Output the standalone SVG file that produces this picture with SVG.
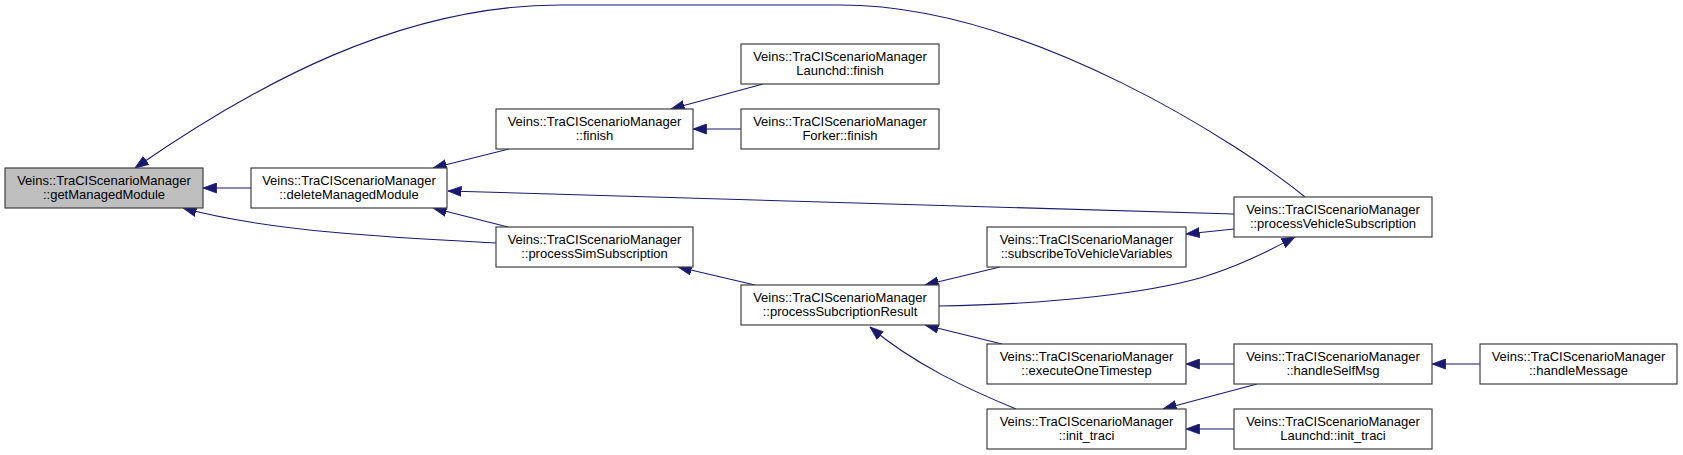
<svg xmlns="http://www.w3.org/2000/svg" width="1683" height="455" viewBox="0 0 1683 455">
<style>
.n rect{fill:#ffffff;stroke:#404040;stroke-width:1.2}
.n.g rect{fill:#bfbfbf}
.n text{font-family:"Liberation Sans",Arial,sans-serif;font-size:13px;fill:#000;text-anchor:middle}
.e path{fill:none;stroke:#191970;stroke-width:1.1;marker-end:url(#ah)}
</style>
<defs>
<marker id="ah" markerUnits="userSpaceOnUse" markerWidth="14" markerHeight="11" viewBox="0 0 14 11" refX="13.5" refY="5.5" orient="auto">
<path d="M0,0.5 L13.5,5.5 L0,10.5 z" fill="#191970" stroke="#191970" stroke-width="0.8"/>
</marker>
</defs>
<rect width="1683" height="455" fill="#ffffff"/>
<g id="edges" class="e">
<path d="M251,188 L203,188"/>
<path d="M1305,197 C1245,148 1030,5 840,5 L560,5 C400,5 255,85 135,168"/>
<path d="M509,149 L433,168"/>
<path d="M763,84 L671,109"/>
<path d="M741,129 L693,129"/>
<path d="M1234,214 L448,191"/>
<path d="M508,227 L433,208"/>
<path d="M496,243 C400,238 270,232 183,208"/>
<path d="M755,285 L678,267"/>
<path d="M1000,267 L925,285"/>
<path d="M1234,229 L1186,234"/>
<path d="M939,306 C1060,304 1150,292 1200,278 C1240,266 1270,250 1295,237"/>
<path d="M1002,344 L925,325"/>
<path d="M1016,409 C970,390 915,365 870,327"/>
<path d="M1234,364 L1186,364"/>
<path d="M1480,364 L1432,364"/>
<path d="M1257,384 L1163,409"/>
<path d="M1234,429 L1186,429"/>
</g>
<g id="getManagedModule" class="n g"><rect x="5" y="168" width="198" height="40"/><text x="104" y="184.5">Veins::TraCIScenarioManager</text><text x="104" y="199">::getManagedModule</text></g>
<g id="deleteManagedModule" class="n"><rect x="251" y="168" width="196" height="40"/><text x="349" y="184.5">Veins::TraCIScenarioManager</text><text x="349" y="199">::deleteManagedModule</text></g>
<g id="finish" class="n"><rect x="496" y="109" width="197" height="40"/><text x="594.5" y="125.5">Veins::TraCIScenarioManager</text><text x="594.5" y="140">::finish</text></g>
<g id="launchdFinish" class="n"><rect x="741" y="44" width="198" height="40"/><text x="840" y="60.5">Veins::TraCIScenarioManager</text><text x="840" y="75">Launchd::finish</text></g>
<g id="forkerFinish" class="n"><rect x="741" y="109" width="198" height="40"/><text x="840" y="125.5">Veins::TraCIScenarioManager</text><text x="840" y="140">Forker::finish</text></g>
<g id="processSimSubscription" class="n"><rect x="496" y="227" width="197" height="40"/><text x="594.5" y="243.5">Veins::TraCIScenarioManager</text><text x="594.5" y="258">::processSimSubscription</text></g>
<g id="processSubcriptionResult" class="n"><rect x="741" y="285" width="198" height="40"/><text x="840" y="301.5">Veins::TraCIScenarioManager</text><text x="840" y="316">::processSubcriptionResult</text></g>
<g id="subscribeToVehicleVariables" class="n"><rect x="987" y="227" width="199" height="40"/><text x="1086.5" y="243.5">Veins::TraCIScenarioManager</text><text x="1086.5" y="258">::subscribeToVehicleVariables</text></g>
<g id="executeOneTimestep" class="n"><rect x="987" y="344" width="199" height="40"/><text x="1086.5" y="360.5">Veins::TraCIScenarioManager</text><text x="1086.5" y="375">::executeOneTimestep</text></g>
<g id="initTraci" class="n"><rect x="987" y="409" width="199" height="40"/><text x="1086.5" y="425.5">Veins::TraCIScenarioManager</text><text x="1086.5" y="440">::init_traci</text></g>
<g id="processVehicleSubscription" class="n"><rect x="1234" y="197" width="198" height="40"/><text x="1333" y="213.5">Veins::TraCIScenarioManager</text><text x="1333" y="228">::processVehicleSubscription</text></g>
<g id="handleSelfMsg" class="n"><rect x="1234" y="344" width="198" height="40"/><text x="1333" y="360.5">Veins::TraCIScenarioManager</text><text x="1333" y="375">::handleSelfMsg</text></g>
<g id="launchdInitTraci" class="n"><rect x="1234" y="409" width="198" height="40"/><text x="1333" y="425.5">Veins::TraCIScenarioManager</text><text x="1333" y="440">Launchd::init_traci</text></g>
<g id="handleMessage" class="n"><rect x="1480" y="344" width="197" height="40"/><text x="1578.5" y="360.5">Veins::TraCIScenarioManager</text><text x="1578.5" y="375">::handleMessage</text></g>
</svg>
